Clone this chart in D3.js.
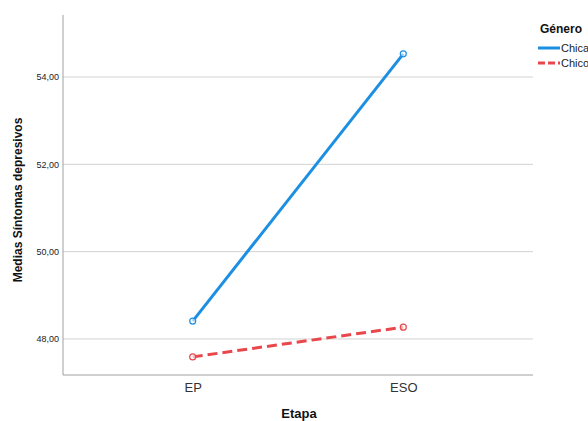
<!DOCTYPE html>
<html><head><meta charset="utf-8">
<script src="https://cdn.jsdelivr.net/npm/d3@7"></script>
<style>body{margin:0;background:#fff}svg{display:block}text{font-family:Arial,"Liberation Sans",sans-serif}</style>
</head><body><svg id="c" width="588" height="421"></svg>
<script>
const categories = ["EP", "ESO"];
const seriesNames = ["Chica", "Chico"];
const chicaValues = [48.41, 54.53];
const chicoValues = [47.59, 48.27];
const yTicks = [48, 50, 52, 54];
const tickLabels = ["48,00", "50,00", "52,00", "54,00"];
const colors = ["#1c8fe3", "#e8474c"];

const svg = d3.select("#c");
const L = 63, R = 533, T = 15, B = 375;
const x = d3.scalePoint().domain(categories).range([L, R]).padding(0.616);
const y = d3.scaleLinear().domain([47.175, 55.42]).range([B, T]);

// gridlines
svg.append("g").selectAll("line").data(yTicks).join("line")
  .attr("x1", L).attr("x2", R).attr("y1", d => y(d)).attr("y2", d => y(d))
  .attr("stroke", "#d2d2d2").attr("stroke-width", 1);

// axes
const yAxis = d3.axisLeft(y).tickValues(yTicks).tickFormat((d, i) => tickLabels[i]).tickSize(0).tickPadding(4);
const gy = svg.append("g").attr("transform", `translate(${L},0)`).call(yAxis);
gy.select(".domain").remove();
gy.selectAll("text").attr("font-size", 9).attr("fill", "#222");
svg.append("line").attr("x1", L).attr("x2", L).attr("y1", T).attr("y2", B).attr("stroke", "#a0a0a0");
svg.append("line").attr("x1", L).attr("x2", R).attr("y1", B).attr("y2", B).attr("stroke", "#a0a0a0");

const xAxis = d3.axisBottom(x).tickSize(0).tickPadding(8);
const gx = svg.append("g").attr("transform", `translate(0,${B})`).call(xAxis);
gx.select(".domain").remove();
gx.selectAll("text").attr("font-size", 13).attr("fill", "#333");

// titles
svg.append("text").attr("x", (L + R) / 2 + 1).attr("y", 418).attr("text-anchor", "middle")
  .attr("font-size", 13).attr("font-weight", "bold").attr("fill", "#111").text("Etapa");
svg.append("text").attr("transform", `translate(22,${(T + B) / 2 + 5}) rotate(-90)`).attr("text-anchor", "middle")
  .attr("font-size", 12).attr("font-weight", "bold").attr("fill", "#111").text("Medias Síntomas depresivos");

// lines
const series = [chicaValues, chicoValues];
const line = d3.line().x((d, i) => x(categories[i])).y(d => y(d));
series.forEach((vals, si) => {
  svg.append("path").datum(vals).attr("d", line).attr("fill", "none")
    .attr("stroke", colors[si]).attr("stroke-width", 3)
    .attr("stroke-dasharray", si === 1 ? "10,5" : null);
  svg.append("g").selectAll("circle").data(vals).join("circle")
    .attr("cx", (d, i) => x(categories[i])).attr("cy", d => y(d)).attr("r", 3)
    .attr("fill", "#fff").attr("fill-opacity", 0.6).attr("stroke", colors[si]).attr("stroke-width", 1.2);
});

// legend
svg.append("text").attr("x", 540).attr("y", 33).attr("font-size", 12).attr("font-weight", "bold").attr("fill", "#111").text("Género");
seriesNames.forEach((n, i) => {
  const ly = 48 + i * 15;
  svg.append("line").attr("x1", 538).attr("x2", 560).attr("y1", ly).attr("y2", ly)
    .attr("stroke", colors[i]).attr("stroke-width", 3).attr("stroke-dasharray", i === 1 ? "7,3" : null);
  svg.append("text").attr("x", 561).attr("y", ly + 4).attr("font-size", 11).attr("fill", "#222").text(n);
});
</script></body></html>
